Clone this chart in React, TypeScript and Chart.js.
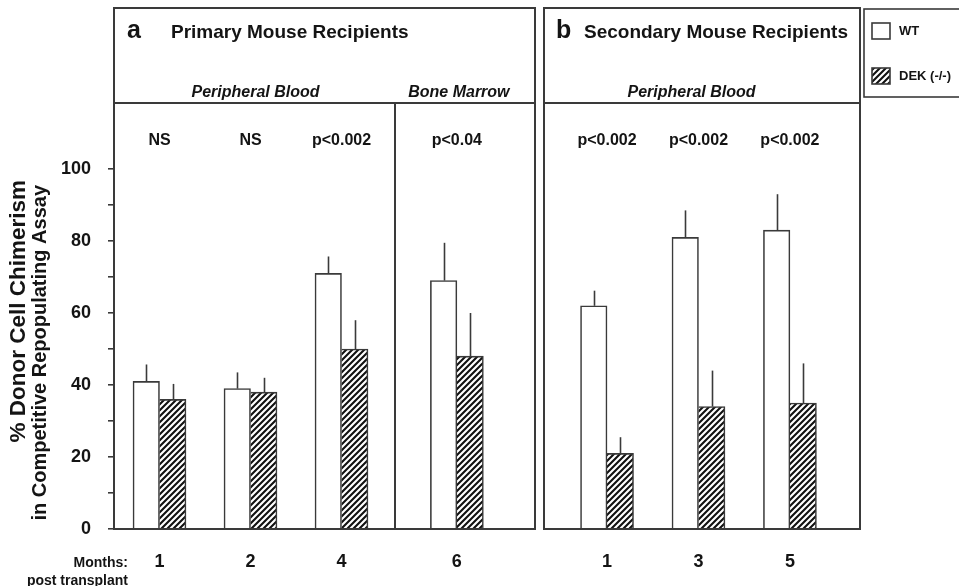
import React, { useEffect, useRef } from 'react';
import { Chart, registerables } from 'chart.js';

Chart.register(...registerables);

// ---------------- data ----------------
const months = ['1', '2', '4', '6', '1', '3', '5'];
const groupSection = [0, 0, 0, 1, 2, 2, 2];
const wtMean = [41, 39, 71, 69, 62, 81, 83];
const wtErr = [4.7, 4.5, 4.7, 10.5, 4.2, 7.5, 10];
const dekMean = [36, 38, 50, 48, 21, 34, 35];
const dekErr = [4.3, 4, 8, 12, 4.5, 10, 11];
const pValues = ['NS', 'NS', 'p<0.002', 'p<0.04', 'p<0.002', 'p<0.002', 'p<0.002'];
const seriesNames = ['WT', 'DEK (-/-)'];
const sectionNames = ['Peripheral Blood', 'Bone Marrow', 'Peripheral Blood'];
const panelLetters = ['a', 'b'];
const panelTitles = ['Primary Mouse Recipients', 'Secondary Mouse Recipients'];
const yTitleLines = ['% Donor Cell Chimerism', 'in Competitive Repopulating Assay'];
const xCaption = ['Months:', 'post transplant'];
const yMin = 0;
const yMax = 100;
const yMinorStep = 10;
const yLabelStep = 20;

// ---------------- layout (x units: one group slot = 1) ----------------
const SECTIONS = [
  { panel: 0, start: 0, end: 3.088, firstCenter: 0.5, step: 1 },
  { panel: 0, start: 3.088, end: 4.626, firstCenter: 0.68, step: 1 },
  { panel: 1, start: 4.725, end: 8.198, firstCenter: 0.693, step: 1.005 },
];
const X_MAX = 8.198;
const groupX = (() => {
  const counters = SECTIONS.map(() => 0);
  return groupSection.map((s) => {
    const sec = SECTIONS[s];
    const j = counters[s]++;
    return sec.start + sec.firstCenter + j * sec.step;
  });
})();

const FONT = '"Liberation Sans", Arial, Helvetica, sans-serif';
const INK = '#141414';
const LINE = '#3a3a3a';
const BOX_TOP = 8;
const HEADER_LINE = 103;
const TITLE_BASE = 38;
const SECTION_BASE = 97;
const PVAL_BASE = 145;
const LETTER_OFFSET = [13, 12];
const TITLE_OFFSET = [57, 40];
const SECTION_NUDGE = [1, 2, -7];
const Y_TITLE = [
  { x: 25, y: 180, size: 22.5 },
  { x: 46, y: 185, size: 20 },
];

function makeHatch(): CanvasPattern | string {
  const c = document.createElement('canvas');
  c.width = 6;
  c.height = 6;
  const g = c.getContext('2d');
  if (!g) return '#888';
  g.fillStyle = '#ffffff';
  g.fillRect(0, 0, 6, 6);
  g.strokeStyle = '#111';
  g.lineWidth = 2.1;
  g.beginPath();
  g.moveTo(-1, 7);
  g.lineTo(7, -1);
  g.moveTo(-1, 1);
  g.lineTo(1, -1);
  g.moveTo(5, 7);
  g.lineTo(7, 5);
  g.stroke();
  const p = g.createPattern(c, 'repeat');
  return p || '#888';
}

const panelPlugin = {
  id: 'panelDecor',
  afterDatasetsDraw(chart: any) {
    const { ctx, chartArea, scales } = chart;
    const x = scales.x;
    const y = scales.y;
    const bottom = chartArea.bottom;
    ctx.save();

    // error bars
    const errs = [wtErr, dekErr];
    const means = [wtMean, dekMean];
    ctx.strokeStyle = LINE;
    ctx.lineWidth = 1.6;
    [0, 1].forEach((d) => {
      const meta = chart.getDatasetMeta(d);
      meta.data.forEach((bar: any, i: number) => {
        const top = y.getPixelForValue(means[d][i]);
        const tip = y.getPixelForValue(means[d][i] + errs[d][i]);
        const bx = Math.round(bar.x) + 0.5;
        ctx.beginPath();
        ctx.moveTo(bx, top);
        ctx.lineTo(bx, tip);
        ctx.stroke();
      });
    });

    // panel boxes
    ctx.strokeStyle = LINE;
    ctx.lineWidth = 2;
    [0, 1].forEach((p) => {
      const secs = SECTIONS.filter((s) => s.panel === p);
      const x0 = Math.round(x.getPixelForValue(secs[0].start));
      const x1 = Math.round(x.getPixelForValue(secs[secs.length - 1].end));
      ctx.strokeRect(x0, BOX_TOP, x1 - x0, bottom - BOX_TOP);
      ctx.beginPath();
      ctx.moveTo(x0, HEADER_LINE);
      ctx.lineTo(x1, HEADER_LINE);
      ctx.stroke();
      secs.slice(1).forEach((s) => {
        const dx = Math.round(x.getPixelForValue(s.start));
        ctx.beginPath();
        ctx.moveTo(dx, HEADER_LINE);
        ctx.lineTo(dx, bottom);
        ctx.stroke();
      });
      ctx.fillStyle = INK;
      ctx.textAlign = 'left';
      ctx.textBaseline = 'alphabetic';
      ctx.font = `bold 25px ${FONT}`;
      ctx.fillText(panelLetters[p], x0 + LETTER_OFFSET[p], TITLE_BASE);
      ctx.font = `bold 19px ${FONT}`;
      ctx.fillText(panelTitles[p], x0 + TITLE_OFFSET[p], TITLE_BASE);
    });

    // section names
    ctx.font = `italic bold 16px ${FONT}`;
    ctx.textAlign = 'center';
    ctx.fillStyle = INK;
    SECTIONS.forEach((s, k) => {
      const members = groupX.filter((_, i) => groupSection[i] === k);
      const cx = k === 0
        ? (x.getPixelForValue(s.start) + x.getPixelForValue(s.end)) / 2
        : (x.getPixelForValue(members[0]) + x.getPixelForValue(members[members.length - 1])) / 2;
      ctx.fillText(sectionNames[k], cx + SECTION_NUDGE[k], SECTION_BASE);
    });

    // p-values
    ctx.font = `bold 16px ${FONT}`;
    groupX.forEach((gx, i) => {
      ctx.fillText(pValues[i], x.getPixelForValue(gx), PVAL_BASE);
    });

    // x caption
    ctx.font = `bold 14px ${FONT}`;
    ctx.textAlign = 'right';
    ctx.fillText(xCaption[0], 128, 567);
    ctx.fillText(xCaption[1], 128, 585);

    // y title
    yTitleLines.forEach((t, k) => {
      ctx.save();
      ctx.font = `bold ${Y_TITLE[k].size}px ${FONT}`;
      ctx.translate(Y_TITLE[k].x, Y_TITLE[k].y);
      ctx.rotate(-Math.PI / 2);
      ctx.textAlign = 'right';
      ctx.textBaseline = 'alphabetic';
      ctx.fillText(t, 0, 0);
      ctx.restore();
    });

    // legend
    ctx.lineWidth = 1.6;
    ctx.strokeStyle = LINE;
    ctx.strokeRect(864, 9, 130, 88);
    chart.data.datasets.forEach((ds: any, k: number) => {
      const sy = 23 + k * 45;
      ctx.fillStyle = ds.backgroundColor;
      ctx.fillRect(872, sy, 18, 16);
      ctx.strokeRect(872, sy, 18, 16);
      ctx.fillStyle = INK;
      ctx.font = `bold 13px ${FONT}`;
      ctx.textAlign = 'left';
      ctx.textBaseline = 'middle';
      ctx.fillText(seriesNames[k], 899, sy + 8);
    });

    ctx.restore();
  },
};

export default function App() {
  const ref = useRef<HTMLCanvasElement | null>(null);
  useEffect(() => {
    const canvas = ref.current;
    if (!canvas) return;
    const hatch = makeHatch();
    const chart = new Chart(canvas, {
      type: 'bar',
      data: {
        datasets: [
          {
            label: seriesNames[0],
            data: groupX.map((gx, i) => ({ x: gx, y: wtMean[i] })),
            backgroundColor: '#ffffff',
            borderColor: LINE,
            borderWidth: { top: 1.6, left: 1.6, right: 1.6, bottom: 0 },
            borderSkipped: false,
            barThickness: 26.5,
          },
          {
            label: seriesNames[1],
            data: groupX.map((gx, i) => ({ x: gx, y: dekMean[i] })),
            backgroundColor: hatch as any,
            borderColor: LINE,
            borderWidth: { top: 1.6, left: 0, right: 1.6, bottom: 0 },
            borderSkipped: false,
            barThickness: 26.5,
          },
        ],
      },
      options: {
        animation: false,
        responsive: false,
        devicePixelRatio: 1,
        layout: { padding: { top: 169, right: 99, bottom: 0, left: 0 } },
        plugins: { legend: { display: false }, tooltip: { enabled: false }, title: { display: false } },
        scales: {
          x: {
            type: 'linear',
            min: 0,
            max: X_MAX,
            offset: false,
            afterBuildTicks: (s: any) => {
              s.ticks = groupX.map((v) => ({ value: v }));
            },
            afterFit: (s: any) => {
              s.height = 57;
            },
            ticks: {
              autoSkip: false,
              maxRotation: 0,
              padding: 22,
              color: INK,
              font: { family: FONT, size: 18, weight: 'bold' },
              callback: (_v: any, i: number) => months[i],
            },
            grid: { display: false, drawTicks: false },
            border: { display: false },
          },
          y: {
            min: yMin,
            max: yMax,
            afterFit: (s: any) => {
              s.width = 114;
            },
            ticks: {
              stepSize: yMinorStep,
              padding: 17,
              color: INK,
              font: { family: FONT, size: 18, weight: 'bold' },
              callback: (v: any) => (Number(v) % yLabelStep === 0 ? String(v) : ''),
            },
            grid: { drawOnChartArea: false, drawTicks: true, tickLength: 6, color: LINE, lineWidth: 1.6 },
            border: { display: false },
          },
        },
      },
      plugins: [panelPlugin],
    });
    return () => chart.destroy();
  }, []);
  return (
    <div style={{ position: 'absolute', left: 0, top: 0, width: 959, height: 586, background: '#fff', overflow: 'hidden' }}>
      <canvas ref={ref} width={959} height={586} />
    </div>
  );
}
